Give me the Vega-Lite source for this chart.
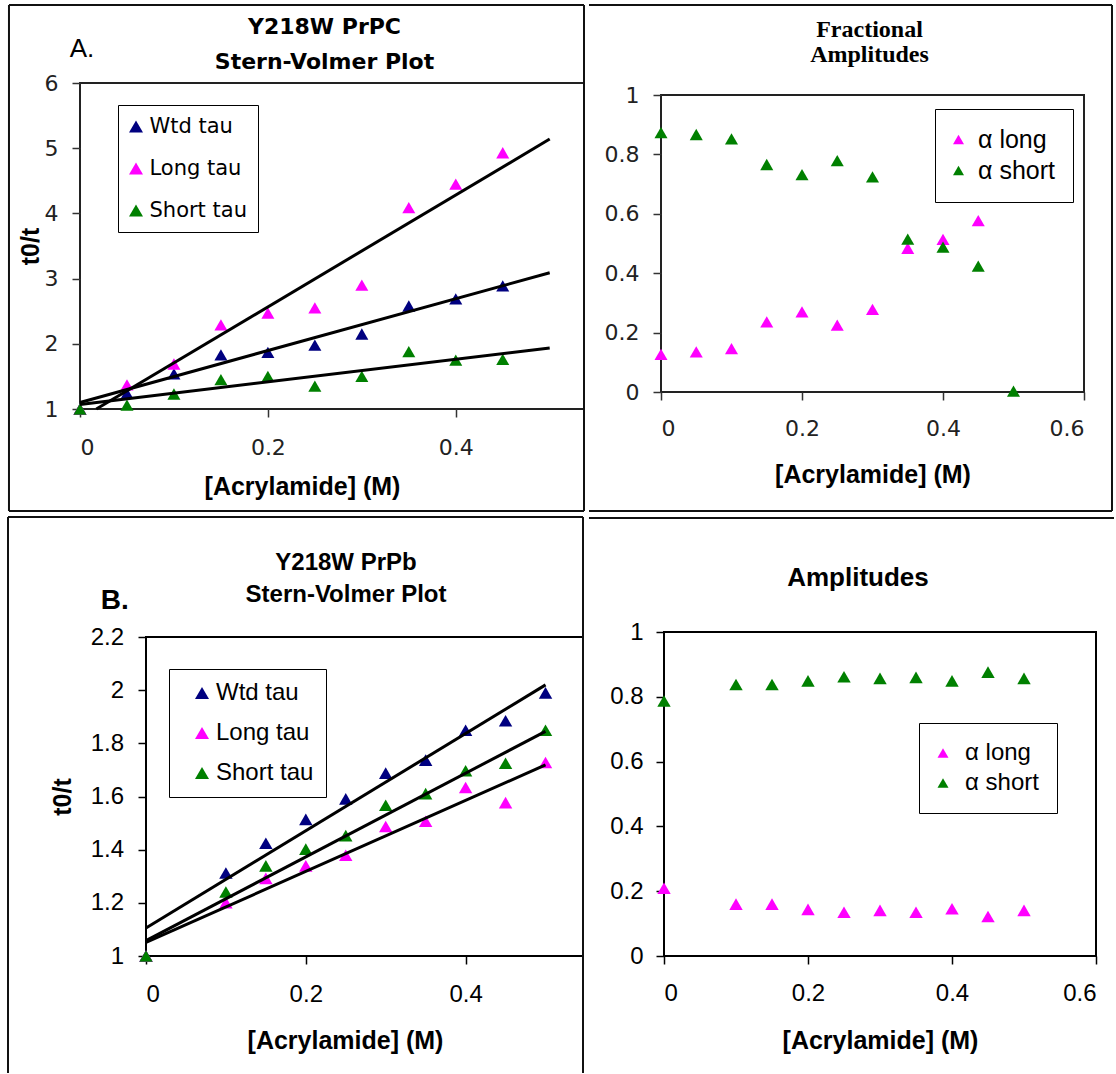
{
  "$schema": "https://vega.github.io/schema/vega-lite/v6.json",
  "background": "white",
  "padding": {"left": 5, "top": 2, "right": 0, "bottom": 0},
  "spacing": 0,
  "resolve": {"scale": {"color": "independent"}, "legend": {"color": "independent"}},
  "config": {
    "axis": {"grid": false, "domain": false, "ticks": true, "tickColor": "#000", "tickWidth": 1.5, "tickSize": 8, "labelColor": "#000", "titleColor": "#000"},
    "legend": {"symbolStrokeWidth": 0},
    "title": {"color": "#000"}
  },
  "datasets": {
    "a1pts": [
      {"c": 0, "v": 1.0, "s": "Wtd tau"}, {"c": 0.05, "v": 1.24, "s": "Wtd tau"}, {"c": 0.1, "v": 1.54, "s": "Wtd tau"}, {"c": 0.15, "v": 1.83, "s": "Wtd tau"}, {"c": 0.2, "v": 1.87, "s": "Wtd tau"}, {"c": 0.25, "v": 1.98, "s": "Wtd tau"}, {"c": 0.3, "v": 2.15, "s": "Wtd tau"}, {"c": 0.35, "v": 2.58, "s": "Wtd tau"}, {"c": 0.4, "v": 2.69, "s": "Wtd tau"}, {"c": 0.45, "v": 2.89, "s": "Wtd tau"},
      {"c": 0, "v": 1.0, "s": "Long tau"}, {"c": 0.05, "v": 1.37, "s": "Long tau"}, {"c": 0.1, "v": 1.69, "s": "Long tau"}, {"c": 0.15, "v": 2.29, "s": "Long tau"}, {"c": 0.2, "v": 2.47, "s": "Long tau"}, {"c": 0.25, "v": 2.55, "s": "Long tau"}, {"c": 0.3, "v": 2.9, "s": "Long tau"}, {"c": 0.35, "v": 4.09, "s": "Long tau"}, {"c": 0.4, "v": 4.45, "s": "Long tau"}, {"c": 0.45, "v": 4.93, "s": "Long tau"},
      {"c": 0, "v": 1.0, "s": "Short tau"}, {"c": 0.05, "v": 1.06, "s": "Short tau"}, {"c": 0.1, "v": 1.23, "s": "Short tau"}, {"c": 0.15, "v": 1.45, "s": "Short tau"}, {"c": 0.2, "v": 1.5, "s": "Short tau"}, {"c": 0.25, "v": 1.35, "s": "Short tau"}, {"c": 0.3, "v": 1.5, "s": "Short tau"}, {"c": 0.35, "v": 1.88, "s": "Short tau"}, {"c": 0.4, "v": 1.75, "s": "Short tau"}, {"c": 0.45, "v": 1.76, "s": "Short tau"}
    ],
    "a1fit": [
      {"c": 0, "v": 1.1, "s": "Wtd tau"}, {"c": 0.5, "v": 3.09, "s": "Wtd tau"},
      {"c": 0.0174, "v": 1.0, "s": "Long tau"}, {"c": 0.5, "v": 5.14, "s": "Long tau"},
      {"c": 0, "v": 1.07, "s": "Short tau"}, {"c": 0.5, "v": 1.935, "s": "Short tau"}
    ],
    "a2pts": [
      {"c": 0, "v": 0.127, "s": "α long"}, {"c": 0.05, "v": 0.135, "s": "α long"}, {"c": 0.1, "v": 0.146, "s": "α long"}, {"c": 0.15, "v": 0.236, "s": "α long"}, {"c": 0.2, "v": 0.27, "s": "α long"}, {"c": 0.25, "v": 0.225, "s": "α long"}, {"c": 0.3, "v": 0.278, "s": "α long"}, {"c": 0.35, "v": 0.484, "s": "α long"}, {"c": 0.4, "v": 0.514, "s": "α long"}, {"c": 0.45, "v": 0.577, "s": "α long"},
      {"c": 0, "v": 0.873, "s": "α short"}, {"c": 0.05, "v": 0.867, "s": "α short"}, {"c": 0.1, "v": 0.852, "s": "α short"}, {"c": 0.15, "v": 0.766, "s": "α short"}, {"c": 0.2, "v": 0.732, "s": "α short"}, {"c": 0.25, "v": 0.779, "s": "α short"}, {"c": 0.3, "v": 0.724, "s": "α short"}, {"c": 0.35, "v": 0.515, "s": "α short"}, {"c": 0.4, "v": 0.488, "s": "α short"}, {"c": 0.45, "v": 0.424, "s": "α short"}, {"c": 0.5, "v": 0.003, "s": "α short"}
    ],
    "b1pts": [
      {"c": 0, "v": 1.0, "s": "Wtd tau"}, {"c": 0.1, "v": 1.312, "s": "Wtd tau"}, {"c": 0.15, "v": 1.424, "s": "Wtd tau"}, {"c": 0.2, "v": 1.514, "s": "Wtd tau"}, {"c": 0.25, "v": 1.591, "s": "Wtd tau"}, {"c": 0.3, "v": 1.688, "s": "Wtd tau"}, {"c": 0.35, "v": 1.737, "s": "Wtd tau"}, {"c": 0.4, "v": 1.849, "s": "Wtd tau"}, {"c": 0.45, "v": 1.885, "s": "Wtd tau"}, {"c": 0.5, "v": 1.99, "s": "Wtd tau"},
      {"c": 0, "v": 1.0, "s": "Long tau"}, {"c": 0.1, "v": 1.201, "s": "Long tau"}, {"c": 0.15, "v": 1.292, "s": "Long tau"}, {"c": 0.2, "v": 1.339, "s": "Long tau"}, {"c": 0.25, "v": 1.379, "s": "Long tau"}, {"c": 0.3, "v": 1.487, "s": "Long tau"}, {"c": 0.35, "v": 1.507, "s": "Long tau"}, {"c": 0.4, "v": 1.634, "s": "Long tau"}, {"c": 0.45, "v": 1.577, "s": "Long tau"}, {"c": 0.5, "v": 1.728, "s": "Long tau"},
      {"c": 0, "v": 1.0, "s": "Short tau"}, {"c": 0.1, "v": 1.241, "s": "Short tau"}, {"c": 0.15, "v": 1.339, "s": "Short tau"}, {"c": 0.2, "v": 1.402, "s": "Short tau"}, {"c": 0.25, "v": 1.453, "s": "Short tau"}, {"c": 0.3, "v": 1.567, "s": "Short tau"}, {"c": 0.35, "v": 1.611, "s": "Short tau"}, {"c": 0.4, "v": 1.697, "s": "Short tau"}, {"c": 0.45, "v": 1.725, "s": "Short tau"}, {"c": 0.5, "v": 1.849, "s": "Short tau"}
    ],
    "b1fit": [
      {"c": 0, "v": 1.105, "s": "Wtd tau"}, {"c": 0.5, "v": 2.02, "s": "Wtd tau"},
      {"c": 0, "v": 1.051, "s": "Long tau"}, {"c": 0.5, "v": 1.719, "s": "Long tau"},
      {"c": 0, "v": 1.058, "s": "Short tau"}, {"c": 0.5, "v": 1.845, "s": "Short tau"}
    ],
    "b2pts": [
      {"c": 0, "v": 0.209, "s": "α long"}, {"c": 0.1, "v": 0.16, "s": "α long"}, {"c": 0.15, "v": 0.16, "s": "α long"}, {"c": 0.2, "v": 0.144, "s": "α long"}, {"c": 0.25, "v": 0.135, "s": "α long"}, {"c": 0.3, "v": 0.141, "s": "α long"}, {"c": 0.35, "v": 0.135, "s": "α long"}, {"c": 0.4, "v": 0.146, "s": "α long"}, {"c": 0.45, "v": 0.122, "s": "α long"}, {"c": 0.5, "v": 0.141, "s": "α long"},
      {"c": 0, "v": 0.787, "s": "α short"}, {"c": 0.1, "v": 0.838, "s": "α short"}, {"c": 0.15, "v": 0.838, "s": "α short"}, {"c": 0.2, "v": 0.849, "s": "α short"}, {"c": 0.25, "v": 0.862, "s": "α short"}, {"c": 0.3, "v": 0.857, "s": "α short"}, {"c": 0.35, "v": 0.86, "s": "α short"}, {"c": 0.4, "v": 0.849, "s": "α short"}, {"c": 0.45, "v": 0.876, "s": "α short"}, {"c": 0.5, "v": 0.857, "s": "α short"}
    ],
    "one": [{}]
  },
  "vconcat": [
    {
      "spacing": 0,
      "resolve": {"scale": {"color": "independent"}, "legend": {"color": "independent"}},
      "hconcat": [
        {
          "spacing": 0,
          "resolve": {"scale": {"color": "independent"}, "legend": {"color": "independent"}},
          "hconcat": [
            {"width": 1, "height": 1, "view": {"stroke": null}, "data": {"name": "one"}, "mark": {"type": "point", "opacity": 0, "size": 1}, "encoding": {}},
            {
              "spacing": 0,
              "resolve": {"scale": {"color": "independent"}, "legend": {"color": "independent"}},
              "vconcat": [
                {"width": 1, "height": 1, "view": {"stroke": null}, "data": {"name": "one"}, "mark": {"type": "point", "opacity": 0, "size": 1}, "encoding": {}},
                {
                  "width": 504, "height": 326,
                  "view": {"stroke": "#222", "strokeWidth": 2},
                  "title": {"text": ["Y218W PrPC", "Stern-Volmer Plot"], "font": "DejaVu Sans", "fontSize": 22, "fontWeight": "bold", "lineHeight": 35, "offset": -70, "dx": -7.5, "frame": "group", "anchor": "middle"},
                  "layer": [
                    {
                      "data": {"name": "a1pts"},
                      "mark": {"type": "point", "shape": "triangle-up", "filled": true, "size": 170, "opacity": 1, "strokeWidth": 0},
                      "encoding": {
                        "x": {"field": "c", "type": "quantitative", "scale": {"domain": [0, 0.5365], "nice": false, "zero": false},
                              "axis": {"values": [0, 0.2, 0.4], "format": "~g", "title": "[Acrylamide] (M)", "titleFont": "Liberation Sans", "titleFontSize": 25, "titleFontWeight": "bold", "titleX": 222, "titlePadding": 16, "labelFont": "DejaVu Sans", "labelFontSize": 22, "labelColor": "#222", "labelPadding": 20, "tickColor": "#333"}},
                        "y": {"field": "v", "type": "quantitative", "scale": {"domain": [1, 6], "nice": false, "zero": false},
                              "axis": {"values": [1, 2, 3, 4, 5, 6], "format": "~g", "title": "t0/t", "titleFont": "Liberation Sans", "titleFontSize": 25, "titleFontWeight": "bold", "titlePadding": 1, "labelFont": "DejaVu Sans", "labelFontSize": 22, "labelColor": "#222", "labelPadding": 14, "tickColor": "#333"}},
                        "color": {"field": "s", "type": "nominal", "scale": {"domain": ["Wtd tau", "Long tau", "Short tau"], "range": ["#000080", "#ff00ff", "#008000"]},
                                  "legend": {"title": null, "orient": "none", "legendX": 38, "legendY": 22, "padding": 11, "fillColor": "#ffffff", "strokeColor": "#000", "symbolType": "triangle-up", "symbolSize": 196, "symbolOffset": -3.5, "labelOffset": 3, "labelFont": "DejaVu Sans", "labelFontSize": 21, "labelColor": "#000", "rowPadding": 20,
                                             "encode": {"legend": {"strokeWidth": {"value": 1.3}}}}}
                      }
                    },
                    {
                      "data": {"name": "a1fit"},
                      "mark": {"type": "line", "color": "#000", "strokeWidth": 3},
                      "encoding": {"x": {"field": "c", "type": "quantitative"}, "y": {"field": "v", "type": "quantitative"}, "detail": {"field": "s", "type": "nominal"}}
                    },
                    {
                      "data": {"name": "one"},
                      "mark": {"type": "text", "text": "A.", "font": "Liberation Sans", "fontSize": 26, "align": "center", "baseline": "middle", "color": "#000"},
                      "encoding": {"x": {"datum": 0.0021, "type": "quantitative"}, "y": {"datum": 6.526, "type": "quantitative"}}
                    },
                    {
                      "data": {"name": "one"},
                      "mark": {"type": "rule", "color": "#111", "strokeWidth": 2},
                      "encoding": {"x": {"datum": -0.0756, "type": "quantitative"}, "y": {"datum": 7.196, "type": "quantitative"}, "y2": {"datum": -0.564}}
                    },
                    {
                      "data": {"name": "one"},
                      "mark": {"type": "rule", "color": "#111", "strokeWidth": 2},
                      "encoding": {"x": {"datum": -0.0756, "type": "quantitative"}, "x2": {"datum": 0.5365}, "y": {"datum": 7.196, "type": "quantitative"}}
                    },
                    {
                      "data": {"name": "one"},
                      "mark": {"type": "rule", "color": "#111", "strokeWidth": 2},
                      "encoding": {"x": {"datum": 0.5365, "type": "quantitative"}, "y": {"datum": 7.196, "type": "quantitative"}, "y2": {"datum": -0.564}}
                    },
                    {
                      "data": {"name": "one"},
                      "mark": {"type": "rule", "color": "#111", "strokeWidth": 2},
                      "encoding": {"x": {"datum": -0.0756, "type": "quantitative"}, "x2": {"datum": 0.5365}, "y": {"datum": -0.564, "type": "quantitative"}}
                    }
                  ]
                }
              ]
            }
          ]
        },
        {
          "spacing": 0,
          "resolve": {"scale": {"color": "independent"}, "legend": {"color": "independent"}},
          "hconcat": [
            {"width": 1, "height": 1, "view": {"stroke": null}, "data": {"name": "one"}, "mark": {"type": "point", "opacity": 0, "size": 1}, "encoding": {}},
            {
              "spacing": 0,
              "resolve": {"scale": {"color": "independent"}, "legend": {"color": "independent"}},
              "vconcat": [
                {"width": 1, "height": 1, "view": {"stroke": null}, "data": {"name": "one"}, "mark": {"type": "point", "opacity": 0, "size": 1}, "encoding": {}},
                {
                  "width": 423, "height": 297,
                  "view": {"stroke": "#222", "strokeWidth": 2},
                  "title": {"text": ["Fractional", "Amplitudes"], "font": "Liberation Serif", "fontSize": 24, "fontWeight": "bold", "lineHeight": 25, "offset": -63, "dx": -3, "frame": "group", "anchor": "middle"},
                  "layer": [
                    {
                      "data": {"name": "a2pts"},
                      "mark": {"type": "point", "shape": "triangle-up", "filled": true, "size": 170, "opacity": 1, "strokeWidth": 0},
                      "encoding": {
                        "x": {"field": "c", "type": "quantitative", "scale": {"domain": [0, 0.6], "nice": false, "zero": false},
                              "axis": {"values": [0, 0.2, 0.4, 0.6], "format": "~g", "title": "[Acrylamide] (M)", "titleFont": "Liberation Sans", "titleFontSize": 25, "titleFontWeight": "bold", "titlePadding": 23, "labelFont": "DejaVu Sans", "labelFontSize": 22, "labelColor": "#222", "labelPadding": 18.5, "tickColor": "#333"}},
                        "y": {"field": "v", "type": "quantitative", "scale": {"domain": [0, 1], "nice": false, "zero": false},
                              "axis": {"values": [0, 0.2, 0.4, 0.6, 0.8, 1], "format": "~g", "title": null, "labelFont": "DejaVu Sans", "labelFontSize": 22, "labelColor": "#222", "labelPadding": 14, "tickColor": "#333"}},
                        "color": {"field": "s", "type": "nominal", "scale": {"domain": ["α long", "α short"], "range": ["#ff00ff", "#008000"]},
                                  "legend": {"title": null, "orient": "none", "legendX": 274, "legendY": 14, "padding": 18, "fillColor": "#ffffff", "strokeColor": "#000", "symbolType": "triangle-up", "symbolSize": 121, "symbolOffset": -7, "labelOffset": 7, "labelFont": "Liberation Sans", "labelFontSize": 25, "labelColor": "#000", "rowPadding": 5,
                                             "encode": {"legend": {"strokeWidth": {"value": 3}}, "symbols": {"fill": {"signal": "datum.value === 'α long' ? '#f07f9f' : '#4e6128'"}}}}}
                      }
                    },
                    {
                      "data": {"name": "one"},
                      "mark": {"type": "rule", "color": "#111", "strokeWidth": 2},
                      "encoding": {"x": {"datum": -0.1021, "type": "quantitative"}, "x2": {"datum": 0.6397}, "y": {"datum": 1.303, "type": "quantitative"}}
                    },
                    {
                      "data": {"name": "one"},
                      "mark": {"type": "rule", "color": "#111", "strokeWidth": 2},
                      "encoding": {"x": {"datum": 0.6397, "type": "quantitative"}, "y": {"datum": 1.303, "type": "quantitative"}, "y2": {"datum": -0.4007}}
                    },
                    {
                      "data": {"name": "one"},
                      "mark": {"type": "rule", "color": "#111", "strokeWidth": 2},
                      "encoding": {"x": {"datum": -0.1021, "type": "quantitative"}, "x2": {"datum": 0.6397}, "y": {"datum": -0.4007, "type": "quantitative"}}
                    }
                  ]
                }
              ]
            }
          ]
        }
      ]
    },
    {
      "spacing": 0,
      "resolve": {"scale": {"color": "independent"}, "legend": {"color": "independent"}},
      "hconcat": [
        {
          "spacing": 0,
          "resolve": {"scale": {"color": "independent"}, "legend": {"color": "independent"}},
          "hconcat": [
            {"width": 1, "height": 1, "view": {"stroke": null}, "data": {"name": "one"}, "mark": {"type": "point", "opacity": 0, "size": 1}, "encoding": {}},
            {
              "spacing": 0,
              "resolve": {"scale": {"color": "independent"}, "legend": {"color": "independent"}},
              "vconcat": [
                {"width": 1, "height": 1, "view": {"stroke": null}, "data": {"name": "one"}, "mark": {"type": "point", "opacity": 0, "size": 1}, "encoding": {}},
                {
                  "width": 437, "height": 319,
                  "view": {"stroke": "#000", "strokeWidth": 2},
                  "title": {"text": ["Y218W PrPb", "Stern-Volmer Plot"], "font": "Liberation Sans", "fontSize": 24, "fontWeight": "bold", "lineHeight": 32, "offset": -91, "dx": -18.5, "frame": "group", "anchor": "middle"},
                  "layer": [
                    {
                      "data": {"name": "b1pts"},
                      "mark": {"type": "point", "shape": "triangle-up", "filled": true, "size": 180, "opacity": 1, "strokeWidth": 0},
                      "encoding": {
                        "x": {"field": "c", "type": "quantitative", "scale": {"domain": [0, 0.5469], "nice": false, "zero": false},
                              "axis": {"values": [0, 0.2, 0.4], "format": "~g", "title": "[Acrylamide] (M)", "titleFont": "Liberation Sans", "titleFontSize": 25, "titleFontWeight": "bold", "titleX": 199, "titlePadding": 22, "labelFont": "Liberation Sans", "labelFontSize": 24, "labelPadding": 18, "tickColor": "#000"}},
                        "y": {"field": "v", "type": "quantitative", "scale": {"domain": [1, 2.2], "nice": false, "zero": false},
                              "axis": {"values": [1, 1.2, 1.4, 1.6, 1.8, 2, 2.2], "format": "~g", "title": "t0/t", "titleFont": "Liberation Sans", "titleFontSize": 25, "titleFontWeight": "bold", "titlePadding": 15, "labelFont": "Liberation Sans", "labelFontSize": 24, "labelPadding": 14.5, "tickColor": "#000"}},
                        "color": {"field": "s", "type": "nominal", "scale": {"domain": ["Wtd tau", "Long tau", "Short tau"], "range": ["#000080", "#ff00ff", "#008000"]},
                                  "legend": {"title": null, "orient": "none", "legendX": 23, "legendY": 32, "padding": 12, "fillColor": "#ffffff", "strokeColor": "#000", "symbolType": "triangle-up", "symbolSize": 196, "symbolOffset": 9, "labelOffset": 2, "labelFont": "Liberation Sans", "labelFontSize": 24, "labelColor": "#000", "rowPadding": 16,
                                             "encode": {"legend": {"strokeWidth": {"value": 1.3}}}}}
                      }
                    },
                    {
                      "data": {"name": "b1fit"},
                      "mark": {"type": "line", "color": "#000", "strokeWidth": 3},
                      "encoding": {"x": {"field": "c", "type": "quantitative"}, "y": {"field": "v", "type": "quantitative"}, "detail": {"field": "s", "type": "nominal"}}
                    },
                    {
                      "data": {"name": "one"},
                      "mark": {"type": "text", "text": "B.", "font": "Liberation Sans", "fontSize": 28, "fontWeight": "bold", "align": "center", "baseline": "middle", "color": "#000"},
                      "encoding": {"x": {"datum": -0.039, "type": "quantitative"}, "y": {"datum": 2.3355, "type": "quantitative"}}
                    },
                    {
                      "data": {"name": "one"},
                      "mark": {"type": "rule", "color": "#111", "strokeWidth": 2},
                      "encoding": {"x": {"datum": -0.1727, "type": "quantitative"}, "y": {"datum": 2.6514, "type": "quantitative"}, "y2": {"datum": 0.5599}}
                    },
                    {
                      "data": {"name": "one"},
                      "mark": {"type": "rule", "color": "#111", "strokeWidth": 2},
                      "encoding": {"x": {"datum": -0.1727, "type": "quantitative"}, "x2": {"datum": 0.5469}, "y": {"datum": 2.6514, "type": "quantitative"}}
                    },
                    {
                      "data": {"name": "one"},
                      "mark": {"type": "rule", "color": "#111", "strokeWidth": 2},
                      "encoding": {"x": {"datum": 0.5469, "type": "quantitative"}, "y": {"datum": 2.6514, "type": "quantitative"}, "y2": {"datum": 0.5599}}
                    }
                  ]
                }
              ]
            }
          ]
        },
        {
          "spacing": 0,
          "resolve": {"scale": {"color": "independent"}, "legend": {"color": "independent"}},
          "hconcat": [
            {"width": 1, "height": 1, "view": {"stroke": null}, "data": {"name": "one"}, "mark": {"type": "point", "opacity": 0, "size": 1}, "encoding": {}},
            {
              "spacing": 0,
              "resolve": {"scale": {"color": "independent"}, "legend": {"color": "independent"}},
              "vconcat": [
                {"width": 1, "height": 1, "view": {"stroke": null}, "data": {"name": "one"}, "mark": {"type": "point", "opacity": 0, "size": 1}, "encoding": {}},
                {
                  "width": 432, "height": 324,
                  "view": {"stroke": "#000", "strokeWidth": 2},
                  "title": {"text": "Amplitudes", "font": "Liberation Sans", "fontSize": 26, "fontWeight": "bold", "offset": -74, "dx": -22, "frame": "group", "anchor": "middle"},
                  "layer": [
                    {
                      "data": {"name": "b2pts"},
                      "mark": {"type": "point", "shape": "triangle-up", "filled": true, "size": 180, "opacity": 1, "strokeWidth": 0},
                      "encoding": {
                        "x": {"field": "c", "type": "quantitative", "scale": {"domain": [0, 0.6], "nice": false, "zero": false},
                              "axis": {"values": [0, 0.2, 0.4, 0.6], "format": "~g", "title": "[Acrylamide] (M)", "titleFont": "Liberation Sans", "titleFontSize": 25, "titleFontWeight": "bold", "titlePadding": 23, "labelFont": "Liberation Sans", "labelFontSize": 24, "labelPadding": 17.5, "tickColor": "#000"}},
                        "y": {"field": "v", "type": "quantitative", "scale": {"domain": [0, 1], "nice": false, "zero": false},
                              "axis": {"values": [0, 0.2, 0.4, 0.6, 0.8, 1], "format": "~g", "title": null, "labelFont": "Liberation Sans", "labelFontSize": 24, "labelPadding": 13, "tickColor": "#000"}},
                        "color": {"field": "s", "type": "nominal", "scale": {"domain": ["α long", "α short"], "range": ["#ff00ff", "#008000"]},
                                  "legend": {"title": null, "orient": "none", "legendX": 255, "legendY": 91, "padding": 18, "fillColor": "#ffffff", "strokeColor": "#000", "symbolType": "triangle-up", "symbolSize": 121, "symbolOffset": -6, "labelOffset": 10, "labelFont": "Liberation Sans", "labelFontSize": 24, "labelColor": "#000", "rowPadding": 6,
                                             "encode": {"legend": {"strokeWidth": {"value": 3}}, "symbols": {"fill": {"signal": "datum.value === 'α long' ? '#f07f9f' : '#4e6128'"}}}}}
                      }
                    },
                    {
                      "data": {"name": "one"},
                      "mark": {"type": "rule", "color": "#111", "strokeWidth": 2},
                      "encoding": {"x": {"datum": -0.1042, "type": "quantitative"}, "x2": {"datum": 0.625}, "y": {"datum": 1.3519, "type": "quantitative"}}
                    }
                  ]
                }
              ]
            }
          ]
        }
      ]
    }
  ]
}
